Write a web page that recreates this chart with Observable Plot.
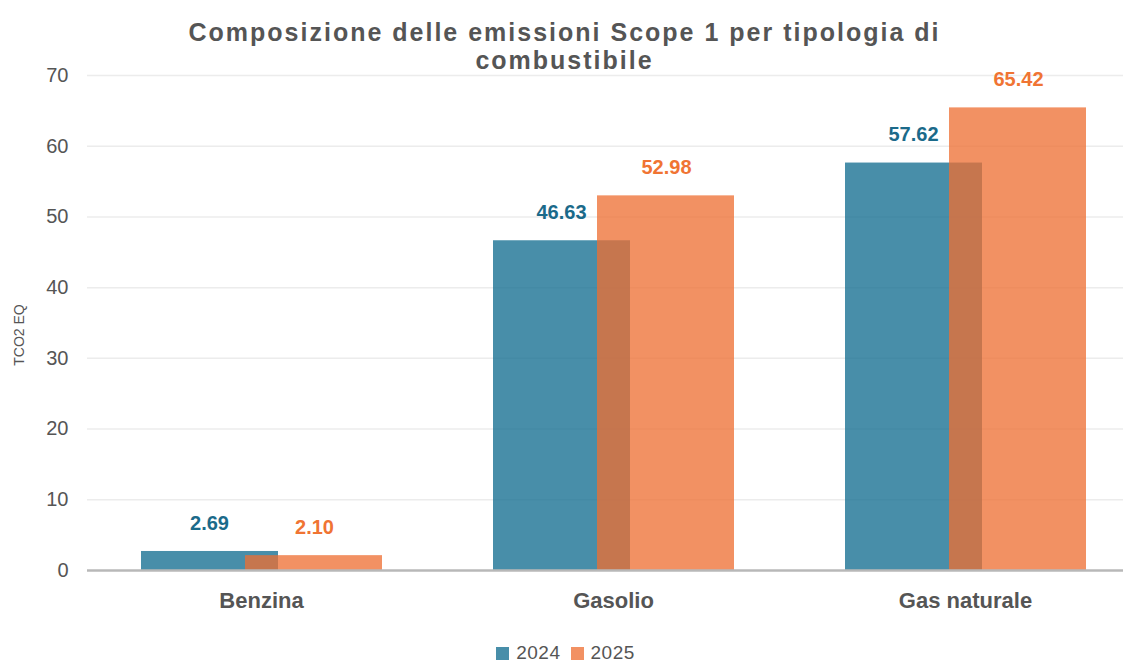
<!DOCTYPE html>
<html>
<head>
<meta charset="utf-8">
<script src="https://cdn.jsdelivr.net/npm/d3@7"></script>
<script src="https://cdn.jsdelivr.net/npm/@observablehq/plot@0.6"></script>
<style>
  html, body { margin: 0; padding: 0; background: #fff; overflow: hidden; }
  body { width: 1129px; height: 665px; font-family: "Liberation Sans", Arial, Helvetica, sans-serif; color: #595959; }
  #title { position: relative; z-index: 2; height: 56px; overflow: visible; text-align: center;
    font-size: 25px; font-weight: bold; line-height: 28px; letter-spacing: 2px; padding-top: 18px; box-sizing: border-box; color: #555; }
  #legend { height: 28px; display: flex; justify-content: center; align-items: center; gap: 0; font-size: 19px; letter-spacing: 0.5px; color: #555; padding-top: 4px; box-sizing: border-box; padding-left: 2px; }
  #legend .sw { display: inline-block; width: 13px; height: 13px; margin-right: 7px; }
  #legend .item { display: flex; align-items: center; margin: 0 5px; }
</style>
</head>
<body>
<div id="title">Composizione delle emissioni Scope 1 per tipologia di<br>combustibile</div>
<div id="chart"></div>
<div id="legend"></div>
<script>
const categories = ["Benzina", "Gasolio", "Gas naturale"];
const values2024 = [2.69, 46.63, 57.62];
const values2025 = [2.10, 52.98, 65.42];
const years = ["2024", "2025"];
const yTicks = [0, 10, 20, 30, 40, 50, 60, 70];
const yLabel = "TCO2 EQ";

const barColors = {"2024": "#146e91", "2025": "#ee6e32"};
const barOpacity = {"2024": 0.78, "2025": 0.76};
const labelColors = {"2024": "#1b6a8a", "2025": "#f07433"};

const d2024 = categories.map((c, i) => ({category: c, value: values2024[i]}));
const d2025 = categories.map((c, i) => ({category: c, value: values2025[i]}));

const chart = Plot.plot({
  width: 1129,
  height: 581,
  marginTop: 19,
  marginBottom: 67,
  marginLeft: 87,
  marginRight: 6,
  style: {background: "transparent", fontFamily: "'Liberation Sans', Arial, Helvetica, sans-serif", color: "#595959"},
  x: {type: "band", domain: categories, range: [85, 1141], padding: 0},
  y: {domain: [0, 70]},
  marks: [
    Plot.gridY(yTicks.filter(t => t > 0), {stroke: "#ececec", strokeOpacity: 1, strokeWidth: 1.5}),
    Plot.axisY(yTicks, {tickSize: 0, tickPadding: 19, fontSize: 20, label: null, fill: "#555", style: {letterSpacing: "0.5px"}}),
    Plot.axisX({tickSize: 0, tickPadding: 22, fontSize: 22, fontWeight: "bold", label: null, fill: "#555", style: {letterSpacing: "2.3px"}}),
    Plot.barY(d2024, {x: "category", y: "value", fill: barColors["2024"], fillOpacity: barOpacity["2024"], insetLeft: 56, insetRight: 159}),
    Plot.barY(d2025, {x: "category", y: "value", fill: barColors["2025"], fillOpacity: barOpacity["2025"], insetLeft: 160, insetRight: 55}),
    Plot.ruleY([0], {stroke: "#b8b8b8", strokeWidth: 2.5}),
    Plot.text(d2024, {x: "category", y: "value", text: d => d.value.toFixed(2), dx: -52, dy: -28, fill: labelColors["2024"], fontWeight: "bold", fontSize: 20}),
    Plot.text(d2025, {x: "category", y: "value", text: d => d.value.toFixed(2), dx: 53, dy: -28, fill: labelColors["2025"], fontWeight: "bold", fontSize: 20}),
    Plot.text([yLabel], {frameAnchor: "left", textAnchor: "middle", text: d => d, rotate: -90, dx: -68, dy: 12, fontSize: 14, fill: "#555"})
  ]
});
document.getElementById("chart").appendChild(chart);

const legend = document.getElementById("legend");
years.forEach(y => {
  const item = document.createElement("span");
  item.className = "item";
  const sw = document.createElement("span");
  sw.className = "sw";
  sw.style.background = barColors[y];
  sw.style.opacity = barOpacity[y];
  item.appendChild(sw);
  item.appendChild(document.createTextNode(y));
  legend.appendChild(item);
});
</script>
</body>
</html>
